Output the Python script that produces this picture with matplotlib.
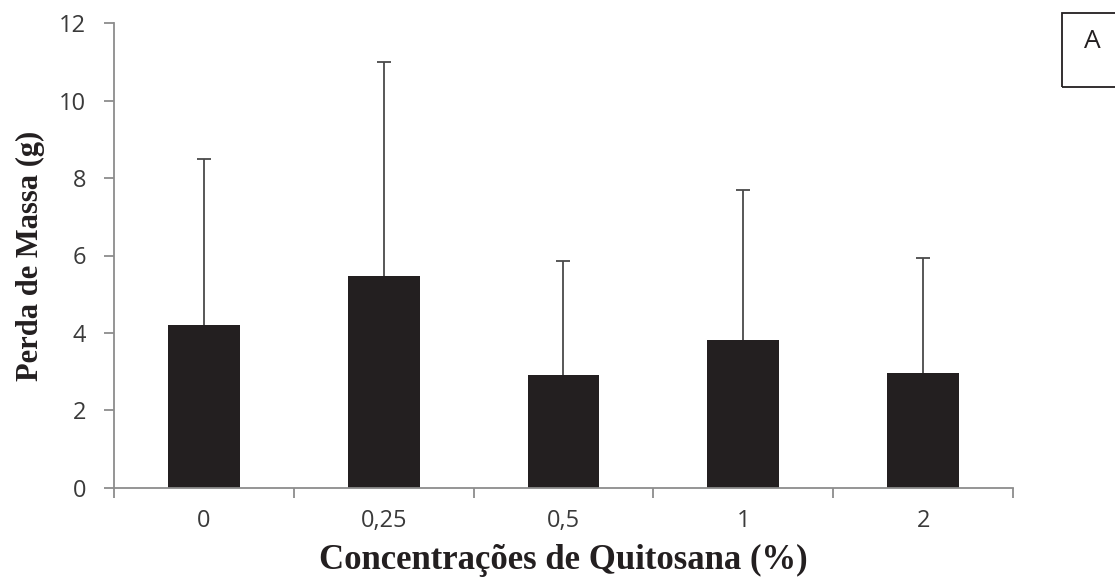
import matplotlib.pyplot as plt
from matplotlib.patches import Rectangle

categorias = ['0', '0,25', '0,5', '1', '2']
perda_massa = [4.21, 5.47, 2.92, 3.81, 2.96]
erro_sup = [4.27, 5.53, 2.94, 3.87, 2.97]

fig = plt.figure(figsize=(11.15, 5.84), dpi=100)
ax = fig.add_axes([0.1022, 0.1644, 0.8063, 0.7962])

x = list(range(len(categorias)))
ax.bar(x, perda_massa, width=0.4, color='#231f20', zorder=2)
_, caps, _ = ax.errorbar(x, perda_massa, yerr=[[0] * len(x), erro_sup], fmt='none',
                         ecolor='#4a4a4a', elinewidth=1.3, capsize=5, capthick=1.3, zorder=3)
# só a barra de erro superior
caps[0].set_visible(False)

ax.set_xlim(-0.5, len(x) - 0.5)
ax.set_ylim(0, 12)
ax.set_yticks(range(0, 13, 2))
ax.set_xticks(x)
ax.set_xticklabels(categorias)
ax.set_xticks([i - 0.5 for i in range(len(x) + 1)], minor=True)

for s in ['top', 'right']:
    ax.spines[s].set_visible(False)
for s in ['left', 'bottom']:
    ax.spines[s].set_color('#8c8c8c')
    ax.spines[s].set_linewidth(1.3)

ax.tick_params(axis='x', which='major', length=0, pad=15)
ax.tick_params(axis='x', which='minor', length=7, width=1.3, color='#8c8c8c', direction='out')
ax.tick_params(axis='y', length=7, width=1.3, color='#8c8c8c', direction='out', pad=13)
for lab in ax.get_xticklabels() + ax.get_yticklabels():
    lab.set_fontfamily('Open Sans')
    lab.set_fontsize(17)
    lab.set_color('#3a3a3a')

ax.set_ylabel('Perda de Massa (g)', fontfamily='Liberation Serif', fontweight='bold',
              fontsize=22, color='#231f20', labelpad=10)
ax.set_xlabel('Concentrações de Quitosana (%)', fontfamily='Liberation Serif', fontweight='bold',
              fontsize=25, color='#231f20', labelpad=8)

# caixa "A" cortada na borda direita
fig.patches.append(Rectangle((1062 / 1115, 1 - 87 / 584), 0.1, 74 / 584,
                             transform=fig.transFigure, fill=False,
                             edgecolor='#231f20', linewidth=1.3))
fig.text(1092 / 1115, 1 - 42 / 584, 'A', fontfamily='Open Sans', fontsize=19,
         color='#231f20', ha='center', va='center')

fig.savefig('out.png', dpi=100)
